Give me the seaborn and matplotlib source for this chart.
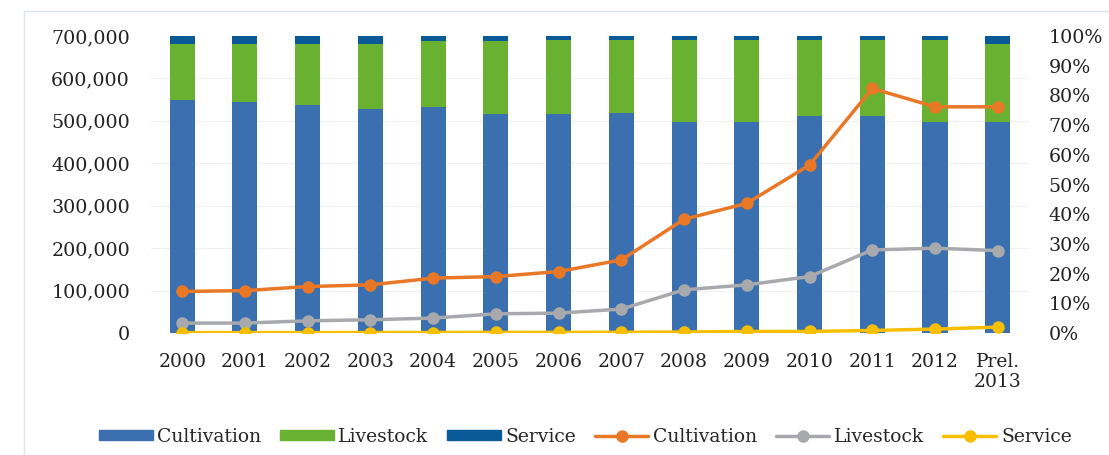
import numpy as np
import pandas as pd
import matplotlib
matplotlib.use("Agg")
import matplotlib.pyplot as plt
import seaborn as sns
from matplotlib.patches import Patch, Rectangle
from matplotlib.lines import Line2D
from matplotlib.ticker import FuncFormatter

years = ["2000", "2001", "2002", "2003", "2004", "2005", "2006", "2007",
         "2008", "2009", "2010", "2011", "2012", "Prel.\n2013"]

# shares of output (%), right axis
share_cultivation = [78.4, 77.6, 76.7, 75.3, 76.1, 73.6, 73.6, 73.9, 71.1, 71.1, 73.1, 73.1, 71.1, 71.1]
share_livestock = [19.0, 19.8, 20.7, 22.1, 22.2, 24.7, 25.0, 24.7, 27.5, 27.6, 25.5, 25.5, 27.6, 26.3]
share_service = [2.6, 2.6, 2.6, 2.6, 1.7, 1.7, 1.4, 1.4, 1.4, 1.3, 1.4, 1.4, 1.3, 2.6]

# values, left axis
val_cultivation = [98000, 100000, 109600, 113600, 129400, 133100, 144900, 172400,
                   268100, 305800, 395900, 576300, 533000, 533000]
val_livestock = [23500, 23500, 28900, 31300, 35300, 45400, 47000, 56500,
                 101900, 113600, 133100, 195900, 199900, 194300]
val_service = [1000, 1000, 1000, 1200, 1300, 1500, 1600, 1800,
               2500, 3800, 3800, 6100, 9400, 14100]

c_blue = "#3A6FB0"
c_green = "#69B231"
c_dblue = "#0B5A98"
c_orange = "#E97826"
c_gray = "#A7A9AC"
c_yellow = "#F7BF00"

sns.set_theme(style="white")
plt.rcParams["font.family"] = ["DejaVu Serif"]

df = pd.DataFrame({
    "year": years,
    "cult": share_cultivation,
    "live": share_livestock,
    "serv": share_service,
})
df["top_live"] = df["cult"] + df["live"]
df["top_serv"] = df["top_live"] + df["serv"]

fig = plt.figure(figsize=(11.09, 4.55), dpi=100)
ax = fig.add_axes([0.136, 0.268, 0.792, 0.653])
ax2 = ax.twinx()

# stacked bars on the percent axis (draw tallest first)
for col, color in [("top_serv", c_dblue), ("top_live", c_green), ("cult", c_blue)]:
    sns.barplot(data=df, x="year", y=col, color=color, width=0.4,
                saturation=1, ax=ax2, edgecolor="none")

ax2.set_ylim(0, 100)
ax2.set_yticks(np.arange(0, 101, 10))
ax2.yaxis.set_major_formatter(FuncFormatter(lambda v, p: f"{v:.0f}%"))
ax2.set_yticks(np.arange(0, 100.01, 100 / 7), minor=True)
ax2.grid(which="minor", axis="y", color="#EEF0F3", linewidth=0.8)
ax2.grid(which="major", visible=False)
ax2.set_axisbelow(True)
ax2.set_ylabel("")
ax2.set_xlabel("")

# lines on the value axis
xpos = np.arange(len(years))
for vals, color in [(val_cultivation, c_orange), (val_livestock, c_gray), (val_service, c_yellow)]:
    sns.lineplot(x=xpos, y=vals, color=color, marker="o", markersize=9,
                 markeredgewidth=0, linewidth=2.5, ax=ax)

ax.set_zorder(ax2.get_zorder() + 1)
ax.patch.set_visible(False)
ax.set_ylim(0, 700000)
ax.set_yticks(np.arange(0, 700001, 100000))
ax.yaxis.set_major_formatter(FuncFormatter(lambda v, p: f"{v:,.0f}"))
ax.set_xlim(-0.5, len(years) - 0.5)
ax.set_xticks(xpos)
ax.set_xticklabels(years)

for a in (ax, ax2):
    for s in a.spines.values():
        s.set_visible(False)
    a.tick_params(which="both", length=0)

ax.tick_params(axis="y", labelsize=13.7, pad=15, labelcolor="#222222")
ax2.tick_params(axis="y", labelsize=13.7, pad=14, labelcolor="#222222")
ax.tick_params(axis="x", labelsize=13.5, pad=14, labelcolor="#222222")
ax2.tick_params(axis="x", labelbottom=False)

handles = [
    Patch(color=c_blue, label="Cultivation"),
    Patch(color=c_green, label="Livestock"),
    Patch(color=c_dblue, label="Service"),
    Line2D([], [], color=c_orange, marker="o", markersize=8, lw=2.5, label="Cultivation"),
    Line2D([], [], color=c_gray, marker="o", markersize=8, lw=2.5, label="Livestock"),
    Line2D([], [], color=c_yellow, marker="o", markersize=8, lw=2.5, label="Service"),
]
fig.legend(handles=handles, loc="center", bbox_to_anchor=(0.528, 0.04), ncol=6,
           frameon=False, fontsize=13.5, handlelength=2.85, handleheight=0.5,
           columnspacing=1.0, handletextpad=0.25)

fig.patches.append(Rectangle((0.022, -0.01), 0.99, 0.985, transform=fig.transFigure,
                             fill=False, edgecolor="#DCE4EE", linewidth=1))

fig.savefig("out.png", dpi=100)
